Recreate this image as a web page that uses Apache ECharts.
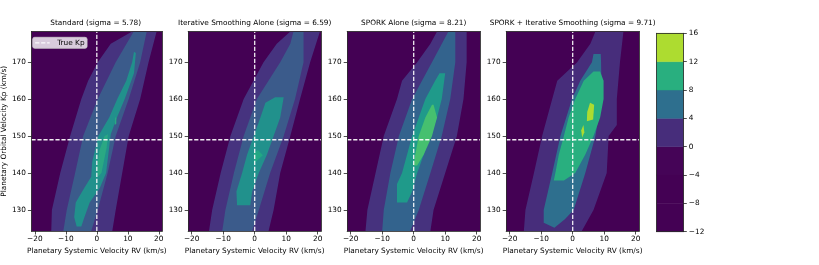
<!DOCTYPE html>
<html><head><meta charset="utf-8">
<script src="https://cdn.jsdelivr.net/npm/echarts@6/dist/echarts.min.js"></script>
<style>html,body{margin:0;padding:0;background:#fff}#c{width:819px;height:265px}</style>
</head><body><div id="c"></div><script>
// ---- data ----
const rvTicks = [-20, -10, 0, 10, 20];
const kpTicks = [130, 140, 150, 160, 170];
const cbarTicks = [-12, -8, -4, 0, 4, 8, 12, 16];
const cbarColors = ['#440154', '#440154', '#450457', '#472d7b', '#2e6f8e', '#29af7f', '#addc30'];
const panelTitles = ['Standard (sigma = 5.78)', 'Iterative Smoothing Alone (sigma = 6.59)', 'SPORK Alone (sigma = 8.21)', 'SPORK + Iterative Smoothing (sigma = 9.71)'];
const trueKp = 149;
const trueRv = 0;
const rvRange = [-21.1, 21.1];
const kpRange = [124.3, 178.3];

// contour regions (RV, Kp) for levels >=0, >=4, >=8, >=12
const stdL0 = [[-14.7,124.3],[-14.5,130],[-11.8,140],[-8.6,150],[-5,160],[-2.8,165],[0.3,170],[4.5,175],[11.4,178.3],[19.3,178.3],[16.7,170],[14,160],[10.3,150],[8.2,140],[6.1,130],[5,124.3]];
const stdL1 = [[-10.8,124.3],[-9.7,130],[-7,140],[-4.4,150],[0.3,160],[6.1,170],[11.9,178.3],[16.1,178.3],[14,170],[10.3,160],[6.1,150],[3.5,140],[0.3,130],[-1.8,124.3]];
const stdL2 = [[-6.5,125.5],[-7.3,128],[-6.8,132],[-4,136],[-1.8,139],[-1.5,143],[0.5,150],[4,155],[6.6,160],[9.5,165],[11.4,170],[12,172.8],[12.6,172.5],[12,167],[9,160],[6.5,155],[4.5,150.5],[4,147],[3,140],[1,136],[-2.3,132],[-4,128],[-5,125.5]];
const stdL3a = [[0.3,139],[1.5,140],[3.2,147],[3.6,150.5],[2.5,150],[0.8,146],[0.2,142]];
const stdL3b = [[5.8,153],[6.3,153.3],[6.3,155],[5.9,155]];

const itsL0 = [[-14.5,124.3],[-13.5,130],[-10.8,140],[-7.7,150],[-3.5,160],[2.8,170],[7,175],[11.3,178.3],[20.7,178.3],[17.6,170],[14.4,160],[11.3,150],[8.1,140],[6,130],[4.4,124.3]];
const itsL1 = [[-10.3,124.3],[-9.3,130],[-6.6,140],[-3.5,150],[0.7,160],[8.1,170],[11.3,175],[12.3,178.3],[15.5,178.3],[15.5,170],[12.8,160],[9.2,150],[4.9,140],[1.3,130],[-0.8,124.3]];
const itsL2 = [[-5.6,131.3],[-5.8,135],[-4,140],[-2.4,145],[-0.3,150],[1.8,155],[3.4,159],[6.5,160.5],[9.2,160.5],[8.1,155],[6,150],[3.9,145],[1.3,140],[-0.8,135],[-1.4,131.3]];
const itsL3 = [[-0.3,142.6],[2.6,144.8],[1,146.2],[-0.2,145.5]];

const sprL0 = [[-15.3,124.3],[-14.7,130],[-12.1,140],[-9.5,150],[-5.3,160],[-3.7,165],[1.1,170],[5.3,175],[7.4,178.3],[16.8,178.3],[16.8,170],[15.8,160],[13.7,150],[10,140],[6.3,130],[5.3,124.3]];
const sprL1 = [[-10,124.3],[-9.5,130],[-7.4,140],[-4.7,150],[-0.5,160],[5.8,170],[11,178.3],[13.2,178.3],[13.2,170],[11.6,160],[8.9,150],[5.3,140],[1.6,130],[-1.1,124.3]];
const sprL2 = [[-5.3,132],[-5.3,137],[-3.7,140],[-2.1,145],[-0.5,150],[1.6,155],[3.7,160],[6.8,165],[8.2,167],[10,167],[8.9,160],[7.4,155],[5.3,150],[3.2,145],[1.1,140],[-0.5,135],[-2.1,132]];
const sprL3 = [[0,142],[0.5,145],[1.6,150],[3.7,155],[5.8,158.5],[6.3,158.5],[7.4,155],[5.8,150],[3.2,145],[1.1,142]];

const bothL0 = [[-15.5,124.3],[-15,130],[-12.3,140],[-9.7,150],[-6.5,160],[-4.9,165],[1.4,170],[5.6,175],[7.2,178.3],[16.1,178.3],[15,170],[14,160],[14,153],[11.4,150],[10.8,140],[6.6,130],[2.9,124.3]];
const bothL1 = [[-9.2,126.5],[-9.2,130],[-6.5,140],[-3.9,150],[-0.2,160],[2.4,165],[6.1,170],[6.6,172.2],[8.9,172.2],[9,170],[9.2,160],[7.2,150],[4,140],[0.3,130],[-2.5,127.5],[-5.8,125.2]];
const bothL2 = [[-6,138],[-5.5,140],[-4.4,145],[-2.8,150],[-1.3,155],[0.8,160],[3.5,165],[6.6,167.5],[8.7,167.5],[9.8,165],[9.8,160],[8.7,155],[6.6,150],[4,145],[0.8,140],[-2.8,138]];
const bothL3a = [[4.5,154],[6.5,154.5],[6.8,158.5],[5.5,159],[4.6,156.5]];
const bothL3b = [[3,149.6],[3.7,151],[3.4,153],[2.7,151.5]];

const panelLayers = [
  [[stdL0], [stdL1], [stdL2], [stdL3a, stdL3b]],
  [[itsL0], [itsL1], [itsL2], [itsL3]],
  [[sprL0], [sprL1], [sprL2], [sprL3]],
  [[bothL0], [bothL1], [bothL2], [bothL3a, bothL3b]]
];
const panelColors = [
  ['#46337f', '#3b5b8b', '#21918c', '#2aa883'],
  ['#46337f', '#3b5b8b', '#21918c', '#22a884'],
  ['#46327e', '#33638d', '#1f9a8a', '#46c06f'],
  ['#472d7b', '#2e6f8e', '#29af7f', '#addc30']
];

// ---- layout ----
const FONT = 'DejaVu Sans';
const FS = 7.35;
const panelLeft = [29.2, 188.2, 347.2, 506.2];
const panelW = 133;
const gridTop = 31.5, gridH = 199.5;
const minus = v => String(v).replace('-', '\u2212');
const frameLine = () => ({show: true, onZero: false, lineStyle: {color: '#222', width: 0.8}});
const dash = () => ({color: '#ffffff', opacity: 0.92, width: 1.3, type: [4.2, 1.8]});

const grids = [], xAxes = [], yAxes = [], series = [], titles = [];
panelTitles.forEach((t, i) => {
  grids.push({left: panelLeft[i], top: gridTop, width: panelW, height: gridH, show: true, backgroundColor: '#440154', borderWidth: 0});
  titles.push({text: t, left: panelLeft[i] + panelW / 2, top: 20, textAlign: 'center', padding: 0,
    textStyle: {fontFamily: FONT, fontSize: FS, fontWeight: 'normal', color: '#000'}});
  xAxes.push({gridIndex: i, type: 'value', min: rvRange[0], max: rvRange[1], position: 'bottom', z: 5,
    name: 'Planetary Systemic Velocity RV (km/s)', nameLocation: 'middle', nameGap: 14.5,
    nameTextStyle: {fontFamily: FONT, fontSize: FS, color: '#000'},
    axisLine: frameLine(), splitLine: {show: false},
    axisTick: {show: true, inside: false, length: 3.5, lineStyle: {color: '#222', width: 0.8}, customValues: rvTicks},
    axisLabel: {show: true, margin: 5, fontFamily: FONT, fontSize: FS, color: '#000', customValues: rvTicks, formatter: minus}});
  xAxes.push({gridIndex: i, type: 'value', min: rvRange[0], max: rvRange[1], position: 'top', z: 5,
    axisLine: frameLine(), axisTick: {show: false}, axisLabel: {show: false}, splitLine: {show: false}});
  yAxes.push({gridIndex: i, type: 'value', min: kpRange[0], max: kpRange[1], position: 'left', z: 5,
    name: i === 0 ? 'Planetary Orbital Velocity Kp (km/s)' : '', nameLocation: 'middle', nameGap: 21,
    nameTextStyle: {fontFamily: FONT, fontSize: FS, color: '#000'},
    axisLine: frameLine(), splitLine: {show: false},
    axisTick: {show: true, inside: false, length: 3.5, lineStyle: {color: '#222', width: 0.8}, customValues: kpTicks},
    axisLabel: {show: true, margin: 5.5, fontFamily: FONT, fontSize: FS, color: '#000', customValues: kpTicks}});
  yAxes.push({gridIndex: i, type: 'value', min: kpRange[0], max: kpRange[1], position: 'right', z: 5,
    axisLine: frameLine(), axisTick: {show: false}, axisLabel: {show: false}, splitLine: {show: false}});

  const items = [];
  panelLayers[i].forEach((polys, lv) => polys.forEach(p => items.push({poly: p, color: panelColors[i][lv]})));
  series.push({type: 'custom', xAxisIndex: 2 * i, yAxisIndex: 2 * i, clip: true, silent: true, z: 2,
    data: items.map((_, k) => [k]),
    renderItem: (params, api) => {
      const it = items[params.dataIndex];
      return {type: 'polygon', shape: {points: it.poly.map(p => api.coord(p))}, style: {fill: it.color}};
    }});
  series.push({type: 'line', name: 'RV0', xAxisIndex: 2 * i, yAxisIndex: 2 * i, z: 4, silent: true, symbol: 'none',
    data: [[trueRv, kpRange[0]], [trueRv, kpRange[1]]], lineStyle: dash(), itemStyle: {color: '#fff'}});
  series.push({type: 'line', name: 'True Kp', xAxisIndex: 2 * i, yAxisIndex: 2 * i, z: 4, silent: true, symbol: 'none',
    data: [[rvRange[0], trueKp], [rvRange[1], trueKp]], lineStyle: dash(), itemStyle: {color: '#fff'}});
});

// colorbar
const cb = grids.length;
grids.push({left: 656.7, top: 33.3, width: 26.6, height: 198.4, show: false});
xAxes.push({gridIndex: cb, type: 'value', min: 0, max: 1, position: 'bottom', z: 5, axisLine: frameLine(), axisTick: {show: false}, axisLabel: {show: false}, splitLine: {show: false}});
xAxes.push({gridIndex: cb, type: 'value', min: 0, max: 1, position: 'top', z: 5, axisLine: frameLine(), axisTick: {show: false}, axisLabel: {show: false}, splitLine: {show: false}});
yAxes.push({gridIndex: cb, type: 'value', min: -12, max: 16, interval: 4, position: 'right', z: 5,
  axisLine: frameLine(), splitLine: {show: false},
  axisTick: {show: true, inside: false, length: 3.5, lineStyle: {color: '#222', width: 0.8}},
  axisLabel: {margin: 5.5, fontFamily: FONT, fontSize: FS, color: '#000', formatter: minus}});
yAxes.push({gridIndex: cb, type: 'value', min: -12, max: 16, position: 'left', z: 5, axisLine: frameLine(), axisTick: {show: false}, axisLabel: {show: false}, splitLine: {show: false}});
series.push({type: 'custom', xAxisIndex: 2 * cb, yAxisIndex: 2 * cb, silent: true, z: 2,
  data: cbarColors.map((c, k) => [k]),
  renderItem: (params, api) => {
    const k = params.dataIndex;
    const a = api.coord([0, cbarTicks[k + 1]]), b = api.coord([1, cbarTicks[k]]);
    return {type: 'rect', shape: {x: a[0], y: a[1], width: b[0] - a[0], height: b[1] - a[1]}, style: {fill: cbarColors[k], stroke: cbarColors[k], lineWidth: 0.5}};
  }});

const chart = echarts.init(document.getElementById('c'), null, {renderer: 'canvas'});
chart.setOption({
  animation: false,
  backgroundColor: '#fff',
  title: titles,
  legend: {data: ['True Kp'], left: 32.7, top: 37.3, orient: 'vertical',
    padding: [2, 2.5, 2, 1.8], itemWidth: 14.5, itemHeight: 7,
    itemStyle: {opacity: 0},
    lineStyle: {color: '#fff', width: 1.3, type: [4.2, 1.8]},
    backgroundColor: 'rgba(255,255,255,0.8)', borderColor: '#ccc', borderWidth: 0.8, borderRadius: 2,
    textStyle: {fontFamily: FONT, fontSize: FS, color: '#000', padding: [0, 0, 0, 2.5]},
    selectedMode: false},
  grid: grids, xAxis: xAxes, yAxis: yAxes, series: series
});
</script></body></html>
